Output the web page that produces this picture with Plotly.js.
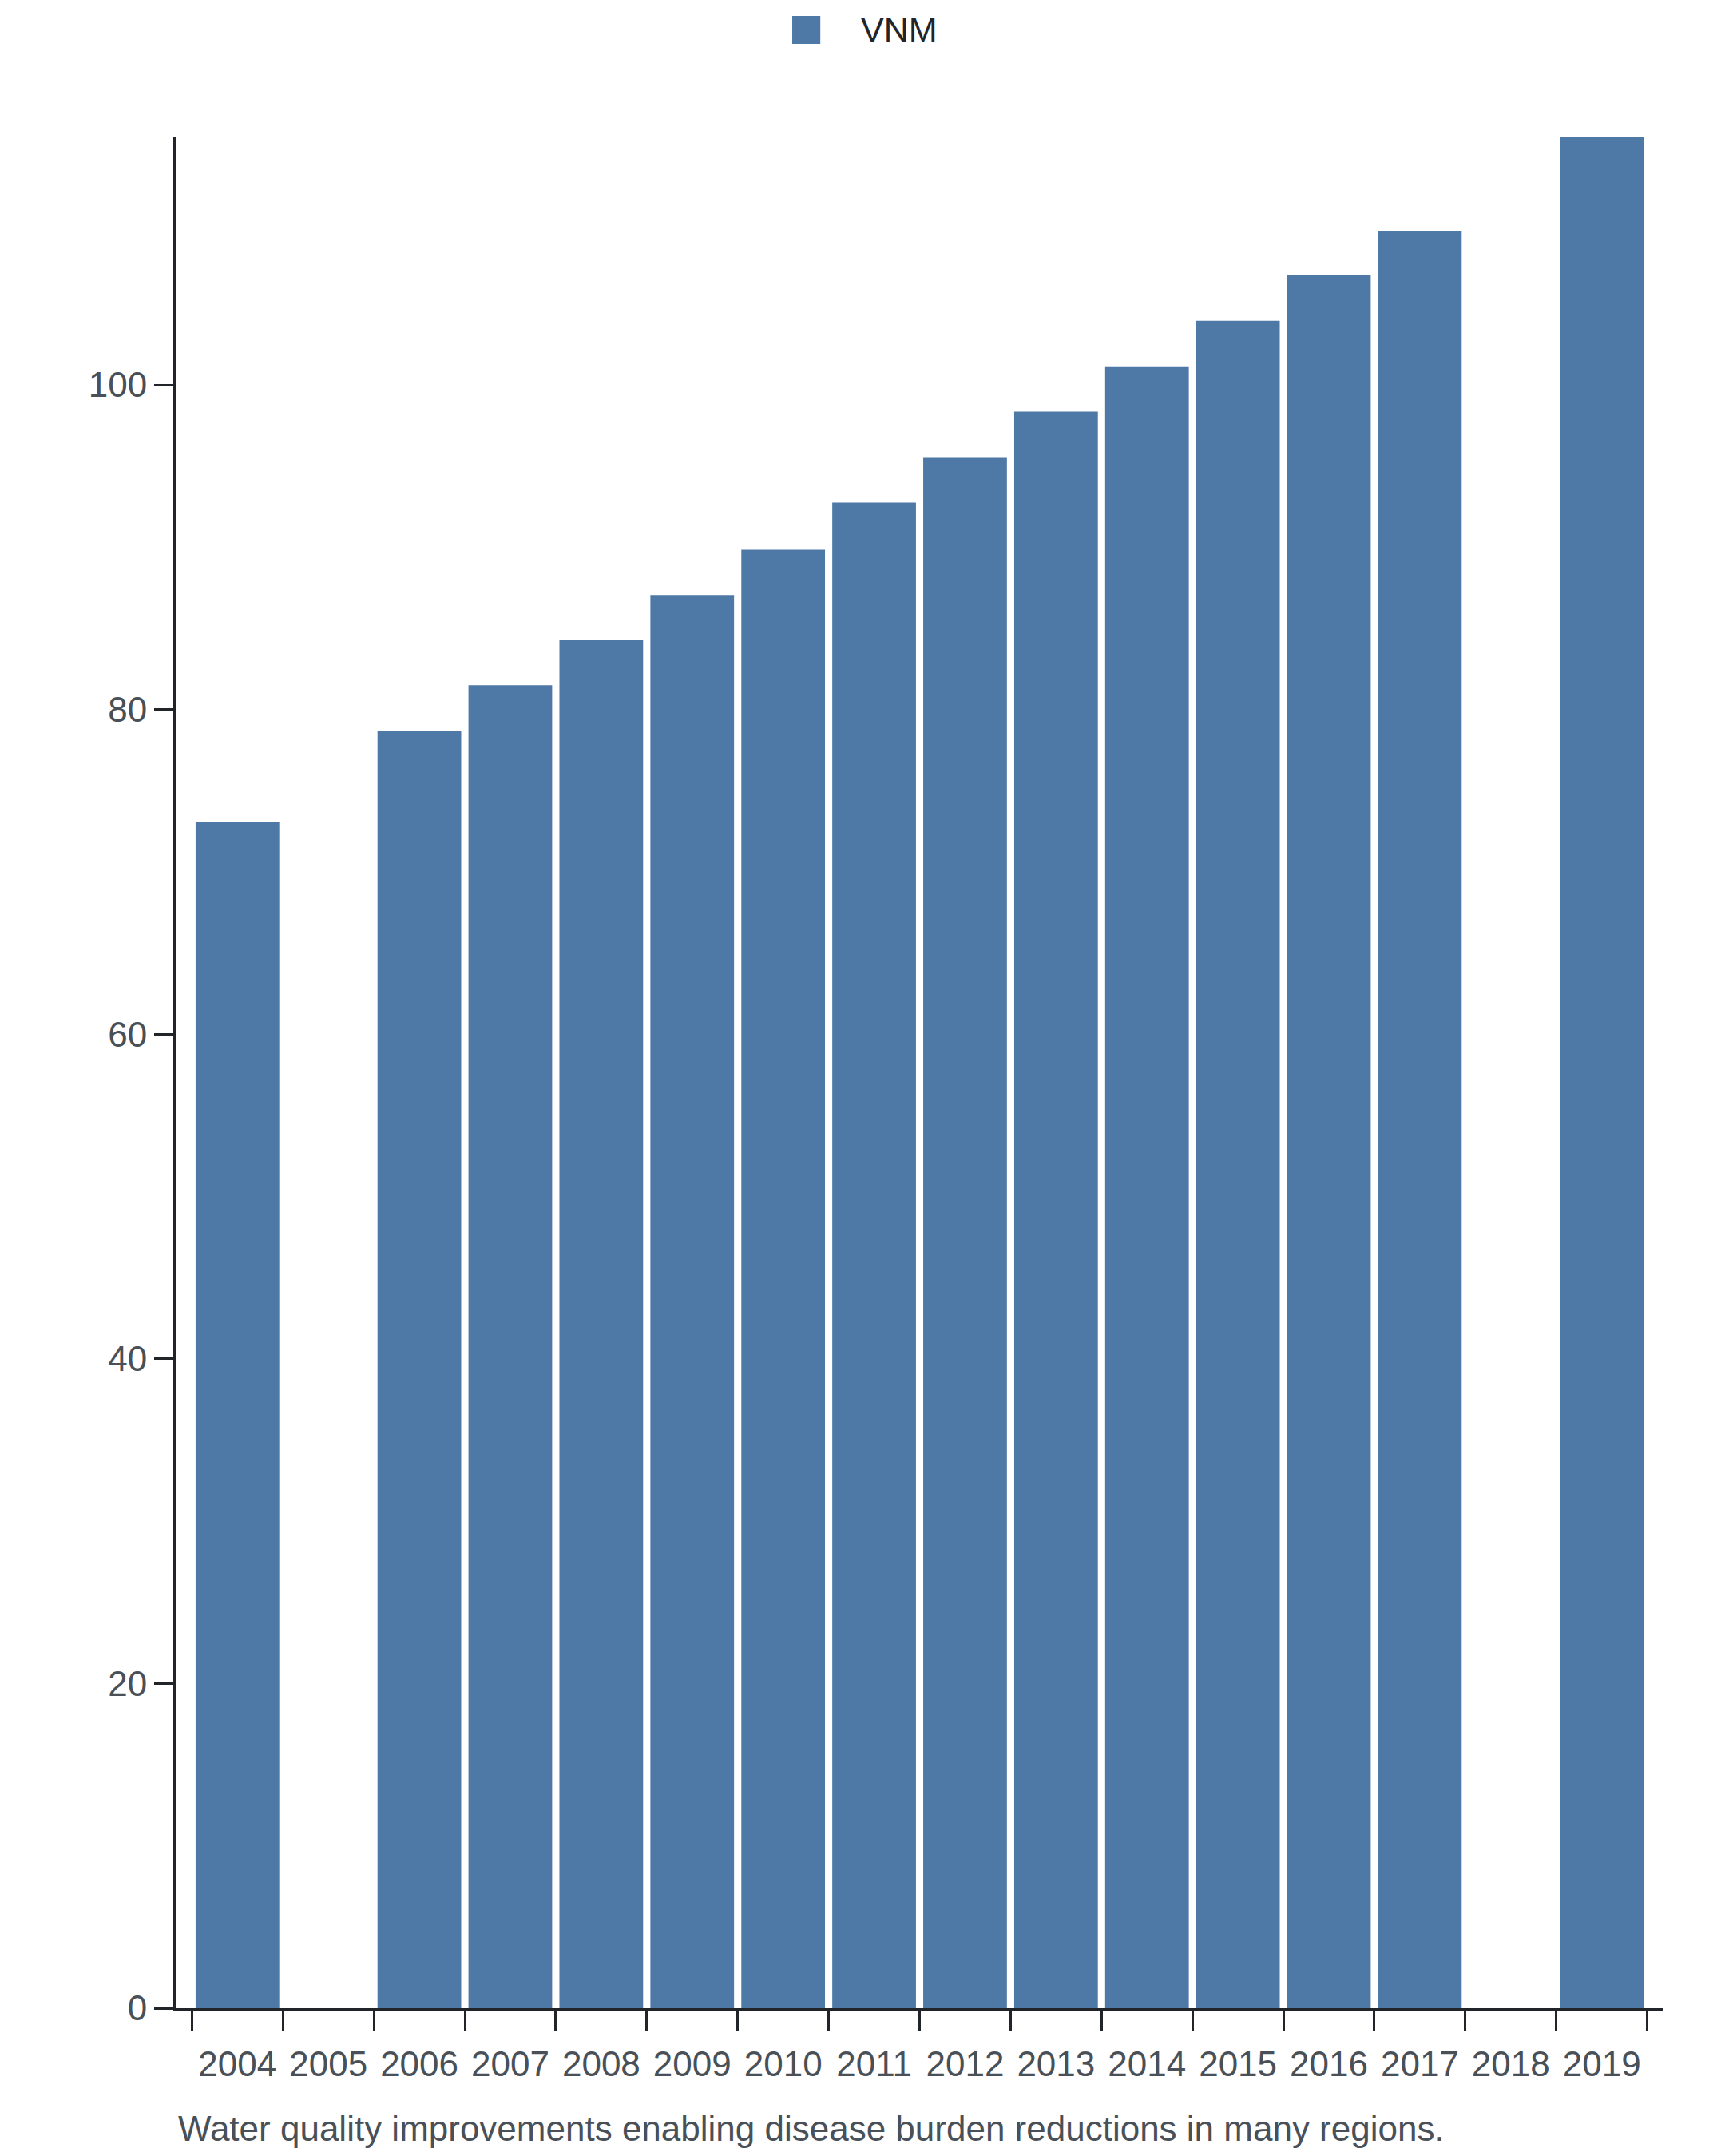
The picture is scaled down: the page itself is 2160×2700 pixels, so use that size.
<!DOCTYPE html>
<html>
<head>
<meta charset="utf-8">
<script src="https://cdn.plot.ly/plotly-3.0.1.min.js"></script>
<style>
  html, body { margin: 0; padding: 0; background: #fff; }
  #chart { width: 2160px; height: 2700px; }
</style>
</head>
<body>
<div id="chart"></div>
<script>
// years on the category axis (2005 and 2018 have no value)
const years = ['2004', '2005', '2006', '2007', '2008', '2009', '2010', '2011',
               '2012', '2013', '2014', '2015', '2016', '2017', '2018', '2019'];
const vnmValues = [73.1, null, 78.7, 81.5, 84.3, 87.05, 89.85, 92.75,
                   95.55, 98.35, 101.15, 103.95, 106.75, 109.5, null, 115.3];
const seriesName = 'VNM';
const yTicks = [0, 20, 40, 60, 80, 100];
const caption = 'Water quality improvements enabling disease burden reductions in many regions.';

const barColor = '#4e79a7';
const axisColor = '#212529';
const tickTextColor = '#495057';
const fontFamily = '"Liberation Sans", Arial, Helvetica, sans-serif';

function drawChart() {
    var trace = {
        x: years,
        y: vnmValues,
        type: 'bar',
        name: seriesName,
        marker: { color: barColor },
        showlegend: false,
        hoverinfo: 'x+y'
    };

    var layout = {
        width: 2160,
        height: 2700,
        margin: { l: 221, r: 78, t: 171, b: 185 },
        paper_bgcolor: '#ffffff',
        plot_bgcolor: '#ffffff',
        font: { family: fontFamily, size: 44, color: tickTextColor },
        bargap: 0.08,
        showlegend: false,
        xaxis: {
            type: 'category',
            categoryorder: 'array',
            categoryarray: years,
            range: [-0.67, years.length - 1 + 0.67],
            tickson: 'boundaries',
            ticks: 'outside',
            ticklen: 24,
            tickwidth: 3,
            tickcolor: axisColor,
            ticklabelstandoff: 28,
            showline: true,
            linecolor: axisColor,
            linewidth: 4,
            showgrid: false,
            zeroline: false,
            tickfont: { family: fontFamily, size: 44, color: tickTextColor },
            title: { text: '' }
        },
        yaxis: {
            range: [0, 115.3],
            tickmode: 'array',
            tickvals: yTicks,
            ticks: 'outside',
            ticklen: 24,
            tickwidth: 3,
            tickcolor: axisColor,
            showline: true,
            linecolor: axisColor,
            linewidth: 4,
            showgrid: false,
            zeroline: false,
            tickfont: { family: fontFamily, size: 44, color: tickTextColor },
            title: { text: '' }
        },
        shapes: [
            // legend swatch
            {
                type: 'rect', xref: 'paper', yref: 'paper',
                x0: 0.4143, x1: 0.4332, y0: 1.0495, y1: 1.0644,
                fillcolor: barColor, line: { width: 0 }
            }
        ],
        annotations: [
            {
                text: seriesName,
                xref: 'paper', yref: 'paper',
                x: 0.4594, y: 1.0572, xanchor: 'left', yanchor: 'middle',
                showarrow: false,
                font: { family: fontFamily, size: 43, color: axisColor }
            },
            {
                text: caption,
                xref: 'paper', yref: 'paper',
                x: 0, y: -0.064, xanchor: 'left', yanchor: 'middle',
                showarrow: false,
                font: { family: fontFamily, size: 44, color: tickTextColor }
            }
        ]
    };

    var config = { responsive: false, displayModeBar: false, staticPlot: true };
    Plotly.newPlot('chart', [trace], layout, config);
}

drawChart();
</script>
</body>
</html>
